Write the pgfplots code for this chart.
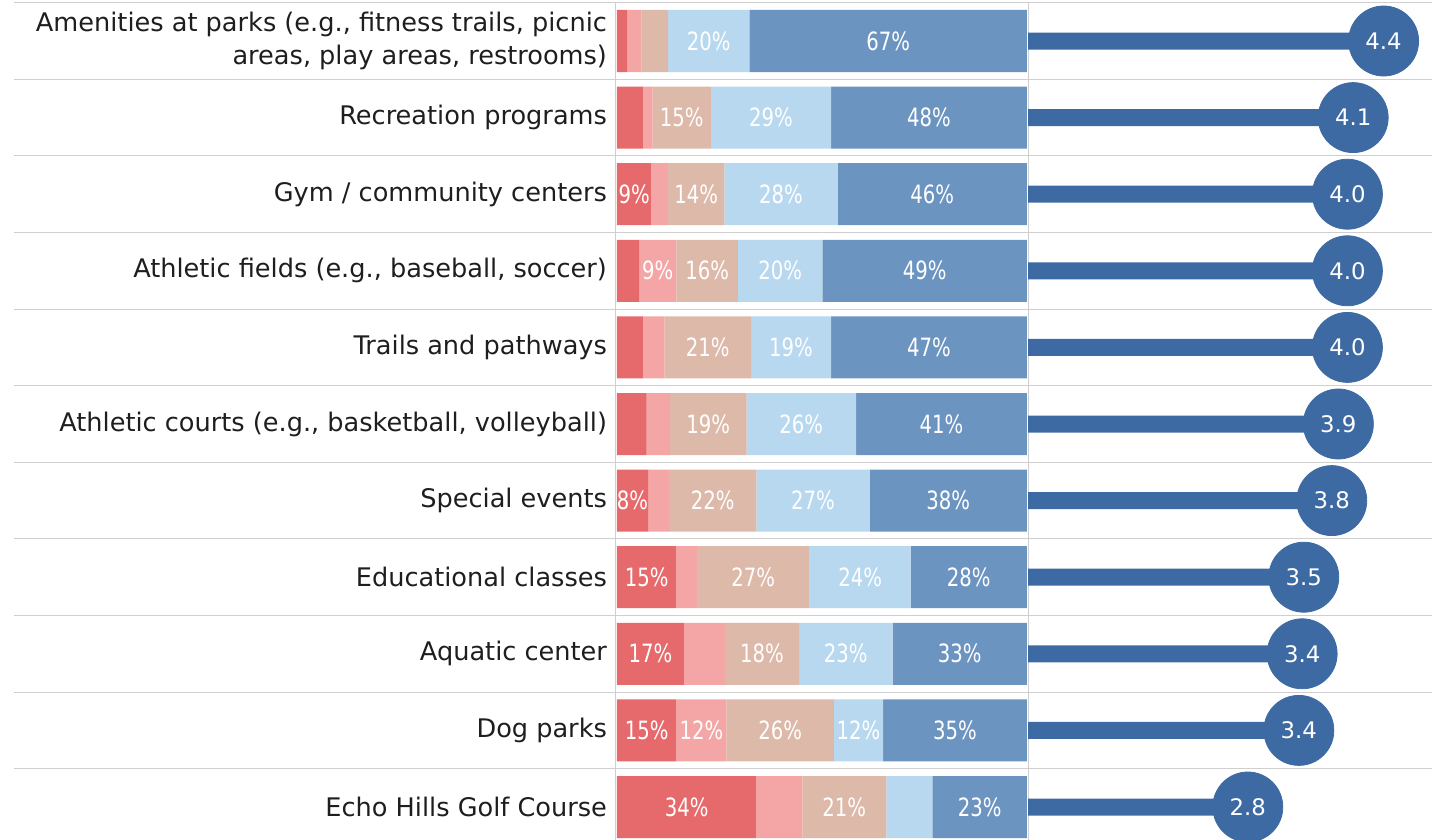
\documentclass[border=0pt]{standalone}
\usepackage{fontspec}
\setmainfont{DejaVu Sans}
\newfontfamily\barfont[FakeStretch=0.78]{DejaVu Sans}
\usepackage{pgfplots}
\usepackage{pgfplotstable}
\pgfplotsset{compat=1.18}
\definecolor{cRed}{HTML}{E6696B}
\definecolor{cPink}{HTML}{F4A6A6}
\definecolor{cTan}{HTML}{DDB9A9}
\definecolor{cLBlue}{HTML}{B8D8F0}
\definecolor{cDBlue}{HTML}{6C94C1}
\definecolor{cLolli}{HTML}{3D6AA3}
\definecolor{cText}{HTML}{1E1E1E}
\definecolor{cGrid}{HTML}{CFCFCF}

\pgfplotstableread{
row r    rl     p    pl     t    tl     lb   lbl    d    dl
0   2.5  {}     3.5  {}     6.5  {}     19.8 20\%   67.7 67\%
1   6.3  {}     2.4  {}     14.2 15\%   29.3 29\%   47.8 48\%
2   8.4  9\%    4.0  {}     13.8 14\%   27.6 28\%   46.2 46\%
3   5.4  {}     9.1  9\%    15.0 16\%   20.6 20\%   49.9 49\%
4   6.3  {}     5.3  {}     21.1 21\%   19.5 19\%   47.8 47\%
5   7.2  {}     5.7  {}     18.7 19\%   26.7 26\%   41.7 41\%
6   7.6  8\%    5.1  {}     21.3 22\%   27.6 27\%   38.4 38\%
7   14.5 15\%   5.0  {}     27.5 27\%   24.6 24\%   28.4 28\%
8   16.3 17\%   10.0 {}     18.1 18\%   22.8 23\%   32.8 33\%
9   14.5 15\%   12.2 12\%   26.2 26\%   12.0 12\%   35.1 35\%
10  34.0 34\%   11.2 {}     20.5 21\%   11.2 {}     23.1 23\%
}\stacked

\pgfplotstableread{
row mean lab
0   4.43 4.4
1   4.06 4.1
2   3.99 4.0
3   3.99 4.0
4   3.99 4.0
5   3.88 3.9
6   3.80 3.8
7   3.46 3.5
8   3.44 3.4
9   3.40 3.4
10  2.78 2.8
}\means

\begin{document}
\begin{tikzpicture}
\useasboundingbox (0,0) rectangle (716pt,420pt);
\pgfplotsset{
  rowaxis/.style={
    scale only axis,
    height=421.3pt,
    ymin=-0.5, ymax=10.5,
    y dir=reverse,
    anchor=south west,
    axis line style={draw=none},
    tick style={draw=none},
  }
}
% grid
\begin{axis}[rowaxis,
  at={(7pt,-2.65pt)}, width=709pt,
  xmin=14, xmax=1432,
  xtick={615,1028}, xticklabels={},
  ytick={-0.5,0.5,...,10.5}, yticklabels={},
  xmajorgrids, ymajorgrids,
  grid style={cGrid, line width=0.5pt},
]
\addplot[draw=none] coordinates {(100,0)};
\end{axis}
% stacked bars
\begin{axis}[rowaxis,
  at={(308.5pt,-2.65pt)}, width=205pt,
  xmin=0, xmax=100,
  xbar stacked, bar width=31pt,
  xtick=\empty,
  ytick={0,...,10},
  yticklabels={{Amenities at parks (e.g., fitness trails, picnic\\areas, play areas, restrooms)},
    Recreation programs, Gym / community centers, {Athletic fields (e.g., baseball, soccer)},
    Trails and pathways, {Athletic courts (e.g., basketball, volleyball)}, Special events,
    Educational classes, Aquatic center, Dog parks, Echo Hills Golf Course},
  yticklabel style={align=right, font=\fontsize{12.8pt}{16.5pt}\selectfont, text=cText, xshift=-1.5pt},
  point meta=explicit symbolic,
  nodes near coords,
  every node near coord/.append style={anchor=center, text=white,
    font=\barfont\fontsize{12.6pt}{14pt}\selectfont},
]
\addplot[fill=cRed, draw=none] table[x=r, y=row, meta=rl] {\stacked};
\addplot[fill=cPink, draw=none] table[x=p, y=row, meta=pl] {\stacked};
\addplot[fill=cTan, draw=none] table[x=t, y=row, meta=tl] {\stacked};
\addplot[fill=cLBlue, draw=none] table[x=lb, y=row, meta=lbl] {\stacked};
\addplot[fill=cDBlue, draw=none] table[x=d, y=row, meta=dl] {\stacked};
\end{axis}
% lollipops
\begin{axis}[rowaxis,
  at={(514pt,-2.65pt)}, width=202pt,
  xmin=0.109, xmax=5.018,
  xtick=\empty, ytick=\empty,
]
\addplot[xbar, bar width=8.5pt, fill=cLolli, draw=none] table[x=mean, y=row] {\means};
\addplot[color=cLolli, only marks, mark=*, mark size=17.5pt, mark options={fill=cLolli, draw=cLolli},
  point meta=explicit symbolic, nodes near coords,
  every node near coord/.append style={anchor=center, text=white,
    font=\fontsize{11.4pt}{12pt}\selectfont}]
  table[x=mean, y=row, meta=lab] {\means};
\end{axis}
\end{tikzpicture}
\end{document}
